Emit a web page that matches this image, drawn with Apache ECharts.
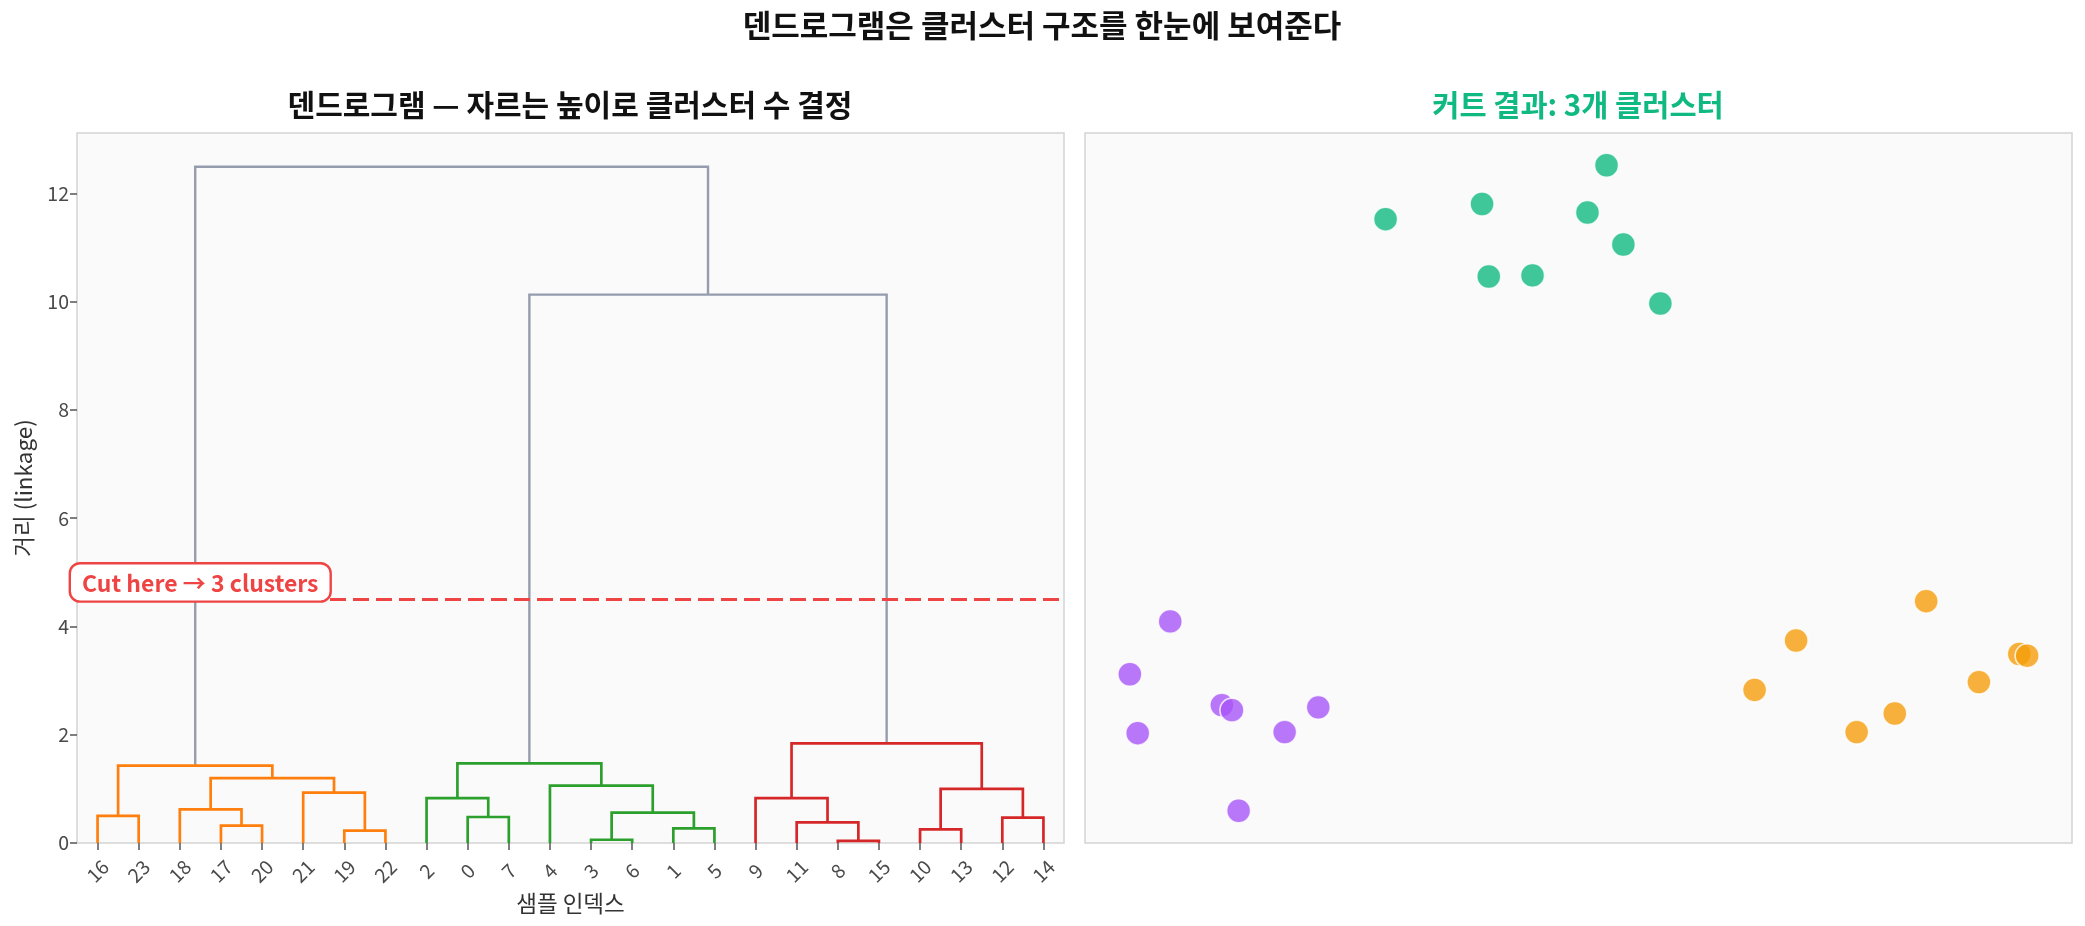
<!DOCTYPE html>
<html>
<head>
<meta charset="utf-8">
<script src="https://cdn.jsdelivr.net/npm/echarts@6/dist/echarts.min.js"></script>
<style>
html,body{margin:0;padding:0;background:#ffffff;}
#c{width:2085px;height:926px;}
</style>
</head>
<body>
<div id="c"></div>
<script>
// ---------------- DATA ----------------
// Leaf order on the dendrogram x axis (sample indexes)
const leafOrder = [16, 23, 18, 17, 20, 21, 19, 22, 2, 0, 7, 4, 3, 6, 1, 5, 9, 11, 8, 15, 10, 13, 12, 14];
// Linkage merges: ids < 24 are samples, id 24+k refers to merge k
const mergeLeft    = [16, 17, 18, 19, 21, 26, 24,   0, 2, 3, 1, 33, 4, 32,   8, 11, 9, 10, 12, 41, 40,   37, 30];
const mergeRight   = [23, 20, 25, 22, 27, 28, 29,   7, 31, 6, 5, 34, 35, 36,   15, 38, 39, 13, 14, 42, 43,   44, 45];
const mergeHeight  = [0.50, 0.32, 0.62, 0.23, 0.93, 1.20, 1.43,   0.48, 0.83, 0.06, 0.27, 0.56, 1.06, 1.47,   0.04, 0.38, 0.83, 0.25, 0.47, 1.00, 1.84,   10.13, 12.49];
const mergeCluster = [1, 1, 1, 1, 1, 1, 1,   2, 2, 2, 2, 2, 2, 2,   3, 3, 3, 3, 3, 3, 3,   0, 0];
const cutHeight = 4.5;
const yTicks = [0, 2, 4, 6, 8, 10, 12];

// Scatter (cut result) points, per cluster
const greenX  = [3.28, 4.14, 4.20, 4.59, 5.25, 5.08, 5.40, 5.73];
const greenY  = [11.04, 11.31, 10.02, 10.04, 12.00, 11.16, 10.59, 9.54];
const purpleX = [1.36, 1.00, 1.07, 1.82, 1.91, 1.97, 2.38, 2.68];
const purpleY = [3.88, 2.94, 1.89, 2.39, 2.30, 0.51, 1.91, 2.35];
const orangeX = [6.57, 6.94, 7.48, 7.82, 8.10, 8.57, 8.93, 9.00];
const orangeY = [2.66, 3.54, 1.91, 2.24, 4.24, 2.80, 3.30, 3.27];

// Texts
const supTitle = '덴드로그램은 클러스터 구조를 한눈에 보여준다';
const leftTitle = '덴드로그램 — 자르는 높이로 클러스터 수 결정';
const rightTitle = '커트 결과: 3개 클러스터';
const yName = '거리 (linkage)';
const xName = '샘플 인덱스';
const cutText = 'Cut here → 3 clusters';

// ---------------- STYLE ----------------
const FONT = "'Noto Sans CJK KR', 'Noto Sans', sans-serif";
const linkColors = ['#949cad', '#ff7f0e', '#2ca02c', '#d62728'];
const BG = '#fafafa';
const FRAME = '#d4d4d4';

// ---------------- BUILD ----------------
const nLeaf = leafOrder.length;
function nodeX(id) {
  return id < nLeaf ? 5 + 10 * leafOrder.indexOf(id)
                    : (nodeX(mergeLeft[id - nLeaf]) + nodeX(mergeRight[id - nLeaf])) / 2;
}
function nodeY(id) { return id < nLeaf ? 0 : mergeHeight[id - nLeaf]; }

const linkData = [[], [], [], []];
mergeHeight.forEach((h, i) => {
  const a = mergeLeft[i], b = mergeRight[i];
  linkData[mergeCluster[i]].push({
    coords: [[nodeX(a), nodeY(a)], [nodeX(a), h], [nodeX(b), h], [nodeX(b), nodeY(b)]]
  });
});
const xMaxDendro = nLeaf * 10;
const yMaxDendro = Math.max(...mergeHeight) * 1.05;

const allX = greenX.concat(purpleX, orangeX);
const allY = greenY.concat(purpleY, orangeY);
const sxMin = Math.min(...allX), sxMax = Math.max(...allX);
const syMin = Math.min(...allY), syMax = Math.max(...allY);
const mx = (sxMax - sxMin) * 0.05, my = (syMax - syMin) * 0.05;

const zip = (xs, ys) => xs.map((x, i) => [x, ys[i]]);

const chart = echarts.init(document.getElementById('c'), null, {renderer: 'canvas'});

const linkSeries = linkData.map((d, k) => ({
  type: 'lines',
  coordinateSystem: 'cartesian2d',
  xAxisIndex: 0, yAxisIndex: 0,
  polyline: true,
  silent: true,
  z: 3,
  lineStyle: {color: linkColors[k], width: k === 0 ? 2.4 : 2.7, opacity: 1, curveness: 0, join: 'miter'},
  data: d
}));

function scatterSeries(xs, ys, color) {
  return {
    type: 'scatter',
    xAxisIndex: 2, yAxisIndex: 1,
    symbol: 'circle',
    symbolSize: 24,
    silent: true,
    itemStyle: {color: color, opacity: 0.8, borderColor: '#ffffff', borderWidth: 1.6},
    data: zip(xs, ys)
  };
}

const option = {
  backgroundColor: '#ffffff',
  animation: false,
  textStyle: {fontFamily: FONT},
  graphic: [
    {type: 'text', x: 1042, y: 25, z: 10,
     style: {text: supTitle, font: 'bold 31px ' + FONT, fill: '#111111', align: 'center', verticalAlign: 'middle', textAlign: 'center', textVerticalAlign: 'middle'}},
    {type: 'text', x: 570, y: 105, z: 10,
     style: {text: leftTitle, font: 'bold 30px ' + FONT, fill: '#111111', align: 'center', verticalAlign: 'middle', textAlign: 'center', textVerticalAlign: 'middle'}},
    {type: 'text', x: 1578, y: 105, z: 10,
     style: {text: rightTitle, font: 'bold 29.5px ' + FONT, fill: '#10b981', align: 'center', verticalAlign: 'middle', textAlign: 'center', textVerticalAlign: 'middle'}}
  ],
  grid: [
    {left: 77, right: 1021, top: 133, bottom: 83, containLabel: false, show: true,
     backgroundColor: BG, borderColor: FRAME, borderWidth: 1.5},
    {left: 1085, right: 13, top: 133, bottom: 83, containLabel: false, show: true,
     backgroundColor: BG, borderColor: FRAME, borderWidth: 1.5}
  ],
  xAxis: [
    {type: 'value', gridIndex: 0, min: 0, max: xMaxDendro, show: false},
    {type: 'category', gridIndex: 0, position: 'bottom', data: leafOrder.map(String), boundaryGap: true,
     axisLine: {show: false},
     axisTick: {show: true, alignWithLabel: true, length: 7, lineStyle: {color: '#555555', width: 1.5}},
     axisLabel: {interval: 0, rotate: 45, align: 'center', verticalAlign: 'middle', margin: 28,
                 color: '#4a4a4a', fontSize: 19.5, fontFamily: FONT},
     splitLine: {show: false},
     name: xName, nameLocation: 'middle', nameGap: 44,
     nameTextStyle: {color: '#333333', fontSize: 22.5, fontFamily: FONT}},
    {type: 'value', gridIndex: 1, min: sxMin - mx, max: sxMax + mx, show: false}
  ],
  yAxis: [
    {type: 'value', gridIndex: 0, min: 0, max: yMaxDendro,
     axisLine: {show: false},
     axisTick: {show: true, length: 7, customValues: yTicks, lineStyle: {color: '#555555', width: 1.5}},
     axisLabel: {customValues: yTicks, color: '#4a4a4a', fontSize: 19.5, margin: 8, fontFamily: FONT},
     splitLine: {show: false},
     name: yName, nameLocation: 'middle', nameGap: 42, nameRotate: 90,
     nameTextStyle: {color: '#333333', fontSize: 22.5, fontFamily: FONT}},
    {type: 'value', gridIndex: 1, min: syMin - my, max: syMax + my, show: false}
  ],
  series: linkSeries.concat([
    {
      type: 'line', xAxisIndex: 0, yAxisIndex: 0, z: 5, silent: true,
      symbol: 'none',
      lineStyle: {color: '#ef4444', width: 3, type: [16, 7]},
      data: [[0, cutHeight], [xMaxDendro, cutHeight]]
    },
    {
      type: 'scatter', xAxisIndex: 0, yAxisIndex: 0, z: 8, silent: true,
      symbolSize: 0,
      itemStyle: {opacity: 1},
      data: [[0, cutHeight]],
      label: {
        show: true, position: [-6, 1], align: 'left', verticalAlign: 'bottom',
        formatter: cutText, opacity: 1,
        color: '#ef4444', fontSize: 23, fontWeight: 'bold', fontFamily: FONT,
        backgroundColor: '#ffffff', borderColor: '#ef4444', borderWidth: 2.4, borderRadius: 9,
        padding: [7, 11, 6, 11]
      }
    },
    scatterSeries(greenX, greenY, '#10b981'),
    scatterSeries(purpleX, purpleY, '#a855f7'),
    scatterSeries(orangeX, orangeY, '#f59e0b')
  ])
};
chart.setOption(option);
</script>
</body>
</html>
